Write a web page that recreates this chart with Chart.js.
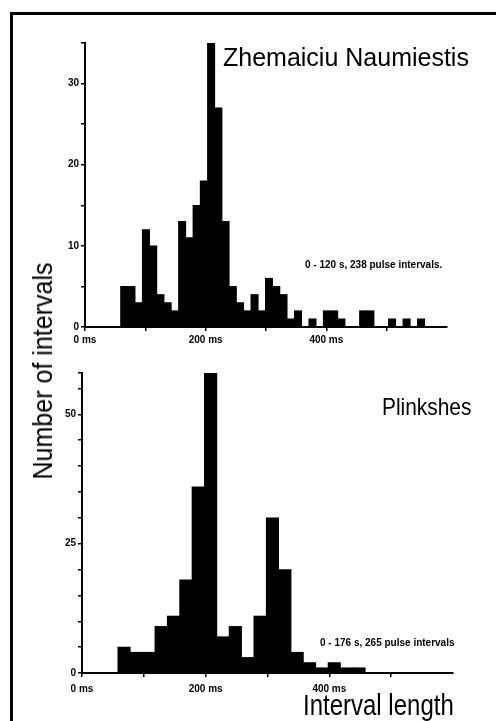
<!DOCTYPE html>
<html>
<head>
<meta charset="utf-8">
<script src="https://cdn.jsdelivr.net/npm/chart.js"></script>
<style>
  body { margin: 0; width: 496px; height: 721px; background: #fff; position: relative; overflow: hidden; }
  canvas { position: absolute; left: 0; }
  #frame { position: absolute; left: 10px; top: 12px; width: 490px; height: 720px;
           border-left: 3px solid #000; border-top: 3px solid #000; }
  .lbl { position: absolute; font-family: 'Liberation Sans', Arial, sans-serif; color: #000;
         white-space: nowrap; line-height: 1; transform-origin: 0 0; }
  .note { font-weight: bold; font-size: 10px; }
</style>
</head>
<body>
<div id="frame"></div>
<canvas id="topChart" width="496" height="360" style="top:0"></canvas>
<canvas id="bottomChart" width="496" height="361" style="top:360px"></canvas>

<div class="lbl" style="left:223px; top:45px; font-size:25px;">Zhemaiciu Naumiestis</div>
<div class="lbl" style="left:382px; top:395px; font-size:24px; transform:scaleX(0.87);">Plinkshes</div>
<div class="lbl note" style="left:305px; top:260px;">0 - 120 s, 238 pulse intervals.</div>
<div class="lbl note" style="left:320px; top:638px;">0 - 176 s, 265 pulse intervals</div>
<div class="lbl" style="left:42.5px; top:371px; font-size:28px; transform-origin:50% 50%;
     transform:translate(-50%,-50%) rotate(-90deg) scaleX(0.894);">Number of intervals</div>
<div class="lbl" style="left:303px; top:690px; font-size:30px; transform:scaleX(0.8);">Interval length</div>

<script>
// Zhemaiciu Naumiestis: 12 ms bins, bin centres in ms
const topBins = [65, 77, 89, 101, 113, 125, 137, 149, 161, 173, 185, 197, 209, 221,
  233, 245, 257, 269, 281, 293, 305, 317, 329, 341, 353, 365, 377, 389,
  401, 413, 425, 437, 449, 461, 473, 485, 497, 509, 521, 533, 545, 557];
const topCounts = [5, 5, 3, 12, 10, 4, 3, 2, 13, 11, 15, 18, 35, 27,
  13, 5, 3, 2, 4, 2, 6, 5, 4, 1, 2, 0, 1, 0,
  2, 2, 1, 0, 0, 2, 2, 0, 0, 1, 0, 1, 0, 1];
const topYLabels = [0, 10, 20, 30];

// Plinkshes: 20 ms bins
const bottomBins = [68, 88, 108, 128, 148, 168, 188, 208, 228, 248,
  268, 288, 308, 328, 348, 368, 388, 408, 428, 448];
const bottomCounts = [5, 4, 4, 9, 11, 18, 36, 58, 7, 9,
  3, 11, 30, 20, 4, 2, 1, 2, 1, 1];
const bottomYLabels = [0, 25, 50];

// shared x axis labels (ms)
const xLabels = [0, 200, 400];

const tickFont = { family: "'Liberation Sans', Arial, sans-serif", weight: 'bold', size: 10 };

function makeChart(id, bins, counts, cfg) {
  const ctx = document.getElementById(id).getContext('2d');
  return new Chart(ctx, {
    type: 'bar',
    data: {
      datasets: [{
        data: bins.map((x, i) => ({ x: x, y: counts[i] })),
        backgroundColor: '#000',
        borderWidth: 0,
        barPercentage: 1,
        categoryPercentage: 1,
        inflateAmount: 0.4
      }]
    },
    options: {
      responsive: false,
      animation: false,
      devicePixelRatio: 1,
      layout: { padding: cfg.padding },
      plugins: { legend: { display: false }, tooltip: { enabled: false } },
      scales: {
        x: {
          type: 'linear', min: 0, max: 600, offset: false,
          afterFit: (s) => { s.height = cfg.xHeight; },
          border: { display: true, color: '#000', width: 2 },
          grid: {
            offset: false, drawOnChartArea: false, drawTicks: true, tickLength: 4, lineWidth: 1.5,
            color: (c) => (c.tick && c.tick.value === 600 ? 'rgba(0,0,0,0)' : '#000')
          },
          ticks: {
            stepSize: 100, autoSkip: false, maxRotation: 0, color: '#000', font: tickFont,
            padding: cfg.xPad,
            callback: (v) => (xLabels.includes(v) ? v + ' ms' : '')
          }
        },
        y: {
          min: 0, max: cfg.yMax,
          afterFit: (s) => { s.width = cfg.yWidth; },
          border: { display: true, color: '#000', width: 2 },
          grid: { drawOnChartArea: false, drawTicks: true, tickLength: 4, lineWidth: 1.5, color: '#000' },
          ticks: {
            stepSize: 5, autoSkip: false, color: '#000', font: tickFont, padding: cfg.yPad,
            callback: (v) => (cfg.yLabels.includes(v) ? String(v) : '')
          }
        }
      }
    }
  });
}

makeChart('topChart', topBins, topCounts, {
  yMax: 35, yLabels: topYLabels, yWidth: 85, xHeight: 33, xPad: 3, yPad: 2,
  padding: { top: 43, right: 49, bottom: 0, left: 0 }
});

makeChart('bottomChart', bottomBins, bottomCounts, {
  yMax: 58, yLabels: bottomYLabels, yWidth: 82, xHeight: 48, xPad: 6, yPad: 2,
  padding: { top: 13, right: 43, bottom: 0, left: 0 }
});
</script>
</body>
</html>
